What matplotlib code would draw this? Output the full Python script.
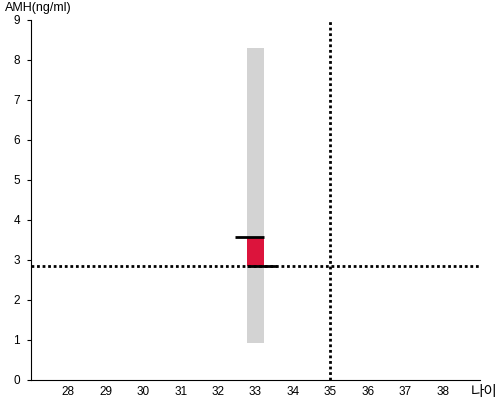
import matplotlib
matplotlib.use("Agg")
import matplotlib.pyplot as plt

plt.rcParams['font.family'] = ['Liberation Sans', 'Noto Sans CJK KR', 'DejaVu Sans']

# data
age = 33
range_low, range_high = 0.93, 8.3      # grey reference range
amh_value = 3.58                       # patient value (top of red bar)
median_amh = 2.85                      # horizontal dotted line
ref_age = 35                           # vertical dotted line
x_ticks = list(range(28, 39))
y_ticks = list(range(0, 10))

fig = plt.figure(figsize=(5, 4), dpi=100)
ax = fig.add_axes([0.062, 0.05, 0.898, 0.9])

bar_w = 0.43
ax.bar(age, range_high - range_low, bottom=range_low, width=bar_w, color='#d3d3d3', zorder=1)
ax.bar(age, amh_value - median_amh, bottom=median_amh, width=bar_w, color='#dc143c', zorder=2)
ax.hlines(amh_value, age - bar_w / 2 - 0.33, age + bar_w / 2, color='black', lw=2, zorder=3)
ax.hlines(median_amh, age - bar_w / 2, age + bar_w / 2 + 0.35, color='black', lw=2, zorder=3)

ax.axhline(median_amh, color='black', lw=2, ls=(0, (1, 1)), zorder=2)
ax.axvline(ref_age, color='black', lw=2, ls=(0, (1, 1)), zorder=2)

ax.set_xlim(27, 39)
ax.set_ylim(0, 9)
ax.set_xticks(x_ticks)
ax.set_yticks(y_ticks)
ax.tick_params(axis='x', length=0, labelsize=8.5, pad=4)
ax.tick_params(axis='y', length=3, labelsize=8.5, pad=5)
for s in ['top', 'right']:
    ax.spines[s].set_visible(False)

fig.text(0.01, 0.98, 'AMH(ng/ml)', fontsize=9, va='center', ha='left')
fig.text(0.994, 0.02, '나이', fontsize=10.5, va='center', ha='right')

fig.savefig('out.png', dpi=100)
